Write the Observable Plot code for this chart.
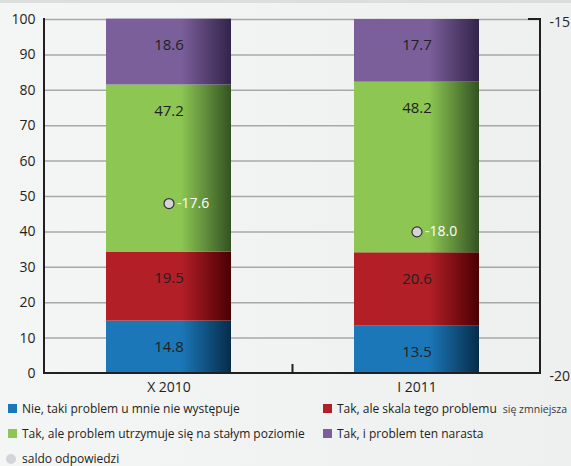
<!DOCTYPE html>
<html><head><meta charset="utf-8">
<script src="https://cdn.jsdelivr.net/npm/d3@7"></script>
<script src="https://cdn.jsdelivr.net/npm/@observablehq/plot@0.6"></script>
<style>
html,body{margin:0;padding:0;}
body{width:571px;height:466px;overflow:hidden;font-family:"Open Sans",sans-serif;color:#231f20;
background:linear-gradient(90deg,#f4f5f5 0%,#eeefef 100%);border-top:3px solid #dcdddd;box-sizing:border-box;}
#chart{position:absolute;top:0;left:0;}
.legend{position:absolute;left:0;top:400px;width:571px;font-size:12px;}
.li{position:absolute;display:flex;align-items:center;white-space:nowrap;}
.sw{width:9px;height:9px;margin-right:5px;display:inline-block;}
.dot{width:10px;height:10px;border-radius:50%;background:#d4d4d8;margin-right:6px;display:inline-block;}
.small{font-size:10.5px;color:#3a3a3a;margin-left:6px;}
</style></head><body>
<div id="chart"></div>
<div class="legend" id="legend"></div>
<script>
const categories = ["X 2010", "I 2011"];
const seriesNames = [
  "Nie, taki problem u mnie nie występuje",
  "Tak, ale skala tego problemu się zmniejsza",
  "Tak, ale problem utrzymuje się na stałym poziomie",
  "Tak, i problem ten narasta"
];
const nieWystepuje = [14.8, 13.5];
const zmniejsza = [19.5, 20.6];
const staly = [47.2, 48.2];
const narasta = [18.6, 17.7];
const saldo = [-17.6, -18.0];
const leftTicks = [0, 10, 20, 30, 40, 50, 60, 70, 80, 90, 100];
const rightTicks = [-15, -20];
const baseColors = ["#1b77b8", "#b31f27", "#8dc653", "#7b5f9b"];
const darkColors = ["#062c4a", "#4a0003", "#335322", "#33244a"];

const seriesValues = [nieWystepuje, zmniejsza, staly, narasta];
const data = [];
categories.forEach((c, i) => seriesNames.forEach((s, k) => data.push({cat: c, series: s, k, value: seriesValues[k][i]})));
// right axis -20..-15 maps onto left 0..100
const toLeft = v => (v + 20) / 5 * 100;
const saldoData = categories.map((c, i) => ({cat: c, v: saldo[i], y: toLeft(saldo[i])}));

const defs = () => {
  const g = d3.create("svg:defs");
  baseColors.forEach((c, k) => {
    const lg = g.append("linearGradient").attr("id", "g" + k).attr("x1", 0).attr("x2", 1).attr("y1", 0).attr("y2", 0);
    lg.append("stop").attr("offset", 0).attr("stop-color", c);
    lg.append("stop").attr("offset", 0.6).attr("stop-color", c);
    lg.append("stop").attr("offset", 1).attr("stop-color", darkColors[k]);
  });
  return g.node();
};

const frameLines = (index, scales, values, dims) => {
  const {width, height, marginLeft, marginRight, marginTop, marginBottom} = dims;
  const g = d3.create("svg:g").attr("stroke", "#231f20").attr("stroke-width", 2).attr("fill", "none");
  const x0 = marginLeft, x1 = width - marginRight, y0 = marginTop, y1 = height - marginBottom;
  g.append("line").attr("x1", x0).attr("x2", x0).attr("y1", y0 - 1).attr("y2", y1 + 1);
  g.append("line").attr("x1", x0).attr("x2", x1 + 1).attr("y1", y1).attr("y2", y1);
  g.append("line").attr("x1", x1).attr("x2", x1).attr("y1", y0 - 1).attr("y2", y1 + 1);
  g.append("line").attr("x1", x1 - 12).attr("x2", x1).attr("y1", y0).attr("y2", y0);
  // category separator tick
  const xm = (scales.x(categories[0]) + scales.x(categories[1]) + scales.x.bandwidth()) / 2;
  g.append("line").attr("x1", xm).attr("x2", xm).attr("y1", y1 - 9).attr("y2", y1);
  return g.node();
};

const chart = Plot.plot({
  width: 571, height: 400,
  marginLeft: 44, marginRight: 31, marginTop: 19, marginBottom: 27,
  style: {fontFamily: "Open Sans, sans-serif", fontSize: "14px", color: "#231f20", background: "transparent", overflow: "visible"},
  x: {domain: categories, paddingInner: 0.496, paddingOuter: 0.248, label: null, tickSize: 0, tickPadding: 9},
  y: {domain: [0, 100], ticks: leftTicks, label: null, tickSize: 0, tickPadding: 9},
  color: {domain: seriesNames, range: baseColors.map((c, k) => `url(#g${k})`)},
  marks: [
    defs,
    Plot.ruleY(leftTicks.filter(t => t > 0), {stroke: "#a8a8a8", strokeWidth: 1.5}),
    Plot.barY(data, {x: "cat", y: "value", fill: "series", order: seriesNames}),
    Plot.text(data, Plot.stackY2({x: "cat", y: "value", z: "series", order: seriesNames, text: d => d.value.toFixed(1), dy: 26, fill: "#231f20", fontSize: 15})),
    Plot.dot(saldoData, {x: "cat", y: "y", r: 5, fill: "#d4d4d8", stroke: "#333", strokeWidth: 1.2}),
    Plot.text(saldoData, {x: "cat", y: "y", text: d => d.v.toFixed(1), dx: 8, textAnchor: "start", fill: "white", fontSize: 14}),
    Plot.text(rightTicks, {y: d => toLeft(d), text: d => String(d), frameAnchor: "right", dx: 9, dy: 3, textAnchor: "start", fontSize: 14}),
    frameLines
  ]
});
document.getElementById("chart").appendChild(chart);

// legend
const legendItems = [
  {k: 0, x: 8, y: 409},
  {k: 1, x: 323, y: 409},
  {k: 2, x: 8, y: 434},
  {k: 3, x: 323, y: 434}
];
const leg = document.getElementById("legend");
legendItems.forEach(({k, x, y}) => {
  const el = document.createElement("div");
  el.className = "li";
  el.style.left = x + "px";
  el.style.top = (y - 400 - 9) + "px";
  const sw = document.createElement("span");
  sw.className = "sw"; sw.style.background = baseColors[k];
  el.appendChild(sw);
  const t = document.createElement("span");
  if (k === 1) {
    t.textContent = "Tak, ale skala tego problemu";
    const s = document.createElement("span"); s.className = "small"; s.textContent = "się zmniejsza";
    el.appendChild(t); el.appendChild(s);
  } else { t.textContent = seriesNames[k]; el.appendChild(t); }
  leg.appendChild(el);
});
const sd = document.createElement("div");
sd.className = "li"; sd.style.left = "6px"; sd.style.top = (459 - 400 - 9) + "px";
sd.innerHTML = '<span class="dot"></span><span>saldo odpowiedzi</span>';
leg.appendChild(sd);
</script>
</body></html>
